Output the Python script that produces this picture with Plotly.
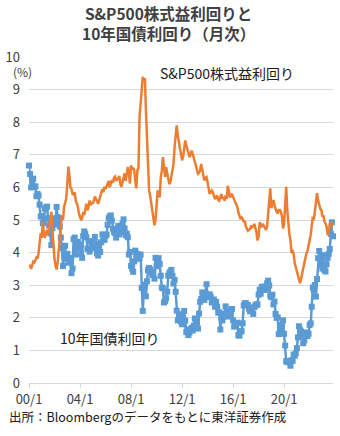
import pandas as pd
import plotly.graph_objects as go

# Monthly dates 2000/1 - 2023/11
dates = pd.date_range("2000-01-01", periods=287, freq="MS")

# S&P500 earnings yield (%)
sp_yield = [
    3.57, 3.62, 3.50, 3.65, 3.72, 3.70, 3.80, 3.85, 3.82, 3.98, 4.30, 4.60,
    4.45, 4.95, 4.60, 4.45, 4.60, 4.70, 4.55, 4.80, 5.05, 5.25, 4.70, 4.20,
    3.80, 3.60, 3.48, 3.70, 4.00, 4.35, 4.80, 5.15, 5.00, 5.40, 5.50, 5.65,
    6.10, 6.64, 6.40, 6.00, 5.95, 5.80, 5.78, 5.85, 5.60, 5.50, 5.40, 5.20,
    5.10, 5.00, 5.05, 5.25, 5.15, 5.35, 5.50, 5.30, 5.40, 5.60, 5.45, 5.55,
    5.50, 5.60, 5.72, 5.65, 5.55, 5.50, 5.60, 5.75, 5.82, 5.95, 5.85, 6.02,
    5.95, 6.05, 6.07, 6.20, 6.00, 6.10, 6.22, 6.15, 6.30, 6.33, 6.20, 6.25,
    6.28, 6.35, 6.10, 6.02, 6.15, 6.30, 6.43, 6.20, 6.50, 6.63, 6.40, 6.12,
    6.68, 6.55, 6.60, 6.53, 6.20, 5.97, 6.53, 6.60, 8.16, 8.50, 8.88, 9.39,
    9.30, 9.35, 8.40, 7.50, 6.70, 5.90, 5.75, 5.50, 5.30, 5.10, 4.84, 5.00,
    5.40, 5.91, 5.75, 5.70, 6.30, 6.52, 6.93, 6.55, 6.32, 6.62, 6.40, 6.21,
    6.10, 6.16, 6.35, 6.52, 6.72, 7.23, 7.50, 7.90, 7.60, 7.34, 7.20, 7.03,
    6.83, 6.95, 7.20, 7.44, 7.30, 7.15, 7.03, 6.93, 7.00, 7.13, 7.03, 6.90,
    6.72, 6.60, 6.52, 6.42, 6.45, 6.52, 6.72, 6.50, 6.32, 6.21, 6.30, 6.32,
    6.15, 6.01, 5.80, 5.85, 5.90, 5.85, 5.70, 5.64, 5.70, 5.75, 5.62, 5.59,
    5.70, 5.80, 5.65, 5.70, 5.59, 5.75, 5.65, 6.05, 5.90, 5.69, 5.75, 5.80,
    5.70, 5.59, 5.55, 5.49, 5.40, 5.23, 5.10, 5.03, 5.08, 5.05, 4.93, 4.98,
    4.80, 4.72, 4.67, 4.70, 4.72, 4.83, 4.78, 4.80, 4.88, 4.75, 4.62, 4.37,
    4.50, 4.93, 4.85, 4.78, 4.88, 4.80, 4.75, 4.70, 4.80, 5.30, 5.50, 5.97,
    5.36, 5.50, 5.61, 5.45, 5.31, 5.25, 5.20, 5.31, 5.31, 5.25, 5.10, 4.74,
    4.90, 5.41, 6.02, 5.30, 4.80, 4.55, 4.39, 3.98, 4.08, 3.95, 3.67, 3.55,
    3.47, 3.32, 3.20, 3.06, 3.20, 3.37, 3.57, 3.75, 3.88, 3.98, 4.05, 4.18,
    4.39, 4.55, 4.80, 5.10, 5.00, 5.31, 5.51, 5.82, 5.60, 5.41, 5.35, 5.31,
    5.10, 5.15, 4.95, 4.90, 4.80, 4.54, 4.60, 4.90, 4.80, 4.95, 4.80,
]

# US 10-year Treasury yield (%)
ust10 = [
    6.67, 6.41, 6.00, 6.21, 6.27, 6.03, 6.03, 5.73, 5.80, 5.75, 5.47, 5.11,
    5.11, 4.90, 4.92, 5.35, 5.38, 5.41, 5.05, 4.83, 4.59, 4.23, 4.75, 5.05,
    5.03, 4.87, 5.40, 5.09, 5.04, 4.80, 4.46, 4.14, 3.59, 3.89, 4.21, 3.81,
    3.96, 3.69, 3.80, 3.84, 3.37, 3.51, 4.41, 4.46, 3.94, 4.29, 4.33, 4.25,
    4.13, 3.97, 3.84, 4.51, 4.65, 4.58, 4.47, 4.12, 4.12, 4.03, 4.35, 4.22,
    4.13, 4.36, 4.48, 4.20, 3.98, 3.91, 4.28, 4.02, 4.32, 4.56, 4.49, 4.39,
    4.52, 4.55, 4.85, 5.05, 5.11, 5.14, 4.98, 4.73, 4.63, 4.60, 4.46, 4.70,
    4.82, 4.56, 4.64, 4.63, 4.89, 5.02, 4.74, 4.53, 4.58, 4.47, 3.94, 4.02,
    3.59, 3.51, 3.41, 3.73, 4.06, 3.97, 3.95, 3.81, 3.83, 3.94, 2.92, 2.21,
    2.84, 3.02, 2.66, 3.12, 3.46, 3.53, 3.48, 3.40, 3.31, 3.38, 3.20, 3.84,
    3.58, 3.61, 3.83, 3.65, 3.29, 2.93, 2.91, 2.47, 2.51, 2.60, 2.80, 3.29,
    3.37, 3.42, 3.47, 3.29, 3.05, 3.16, 2.80, 2.22, 1.92, 2.11, 2.07, 1.88,
    1.80, 1.97, 2.21, 1.91, 1.56, 1.64, 1.47, 1.55, 1.63, 1.69, 1.61, 1.76,
    1.98, 1.88, 1.85, 1.67, 2.13, 2.49, 2.58, 2.78, 2.61, 2.55, 2.74, 3.03,
    2.64, 2.65, 2.72, 2.65, 2.47, 2.53, 2.56, 2.34, 2.49, 2.34, 2.16, 2.17,
    1.64, 2.00, 1.92, 2.03, 2.12, 2.35, 2.18, 2.22, 2.04, 2.14, 2.21, 2.27,
    1.92, 1.73, 1.77, 1.83, 1.85, 1.47, 1.45, 1.58, 1.59, 1.83, 2.38, 2.44,
    2.45, 2.39, 2.39, 2.28, 2.20, 2.30, 2.29, 2.12, 2.33, 2.38, 2.41, 2.41,
    2.71, 2.86, 2.74, 2.95, 2.86, 2.86, 2.96, 2.86, 3.06, 3.14, 2.99, 2.68,
    2.63, 2.71, 2.41, 2.50, 2.12, 2.00, 2.01, 1.50, 1.66, 1.69, 1.78, 1.92,
    1.51, 1.15, 0.67, 0.64, 0.65, 0.66, 0.53, 0.70, 0.68, 0.87, 0.84, 0.91,
    1.07, 1.40, 1.74, 1.63, 1.58, 1.47, 1.22, 1.31, 1.49, 1.55, 1.44, 1.51,
    1.78, 1.83, 2.34, 2.93, 2.84, 3.01, 2.65, 3.19, 3.83, 4.05, 3.61, 3.87,
    3.51, 3.92, 3.47, 3.42, 3.64, 3.84, 3.96, 4.11, 4.57, 4.93, 4.50,
]

tick_dates = ["2000-01-01", "2004-01-01", "2008-01-01", "2012-01-01", "2016-01-01", "2020-01-01"]
tick_labels = ["00/1", "04/1", "08/1", "12/1", "16/1", "20/1"]
y_ticks = [0, 1, 2, 3, 4, 5, 6, 7, 8, 9, 10]

FONT = "Noto Sans CJK JP"
TXT = "#404040"
BLUE = "#5B9BD5"
ORANGE = "#ED7D31"
GRID = "#D9D9D9"

fig = go.Figure()
fig.add_trace(go.Scatter(
    x=dates, y=ust10, mode="lines+markers",
    line=dict(color=BLUE, width=2.5),
    marker=dict(symbol="square", size=6, color=BLUE),
    cliponaxis=False, showlegend=False,
))
fig.add_trace(go.Scatter(
    x=dates, y=sp_yield, mode="lines",
    line=dict(color=ORANGE, width=2.5),
    cliponaxis=False, showlegend=False,
))

title_font = dict(family=FONT, size=15.5, color=TXT)

fig.update_layout(
    width=340, height=436,
    margin=dict(l=29, r=7, t=57, b=53),
    paper_bgcolor="white", plot_bgcolor="white",
    font=dict(family=FONT, size=13, color=TXT),
    xaxis=dict(
        type="date",
        range=["2000-01-01", "2023-11-01"],
        tickvals=tick_dates, ticktext=tick_labels,
        showgrid=False, showline=True, linecolor=GRID, linewidth=1,
        ticks="outside", ticklen=4, tickcolor=GRID,
        tickfont=dict(size=13, color=TXT),
    ),
    yaxis=dict(
        range=[0, 10], tickvals=y_ticks,
        showgrid=True, gridcolor=GRID, gridwidth=1,
        zeroline=False, showline=False, ticks="",
        ticklabelstandoff=8,
        tickfont=dict(size=13, color=TXT),
    ),
    annotations=[
        dict(text="<b>S&amp;P500株式益利回りと<br>10年国債利回り（月次）</b>",
             x=0.46, y=1.103, xref="paper", yref="paper",
             xanchor="center", yanchor="middle", align="center",
             showarrow=False, font=title_font),
        dict(text="(%)", x=-0.02, y=0.955, xref="paper", yref="paper",
             xanchor="center", yanchor="middle", showarrow=False,
             font=dict(size=12, color=TXT)),
        dict(text="S&amp;P500株式益利回り", x=0.424, y=0.951, xref="paper", yref="paper",
             xanchor="left", yanchor="middle", showarrow=False,
             font=dict(size=14, color="#202020")),
        dict(text="10年国債利回り", x=0.095, y=0.138, xref="paper", yref="paper",
             xanchor="left", yanchor="middle", showarrow=False,
             font=dict(size=14, color="#202020")),
        dict(text="出所：Bloombergのデータをもとに東洋証券作成", x=-0.072, y=-0.103,
             xref="paper", yref="paper", xanchor="left", yanchor="middle",
             showarrow=False, font=dict(size=12.5, color="#202020")),
    ],
)

fig.write_html("out.html")
